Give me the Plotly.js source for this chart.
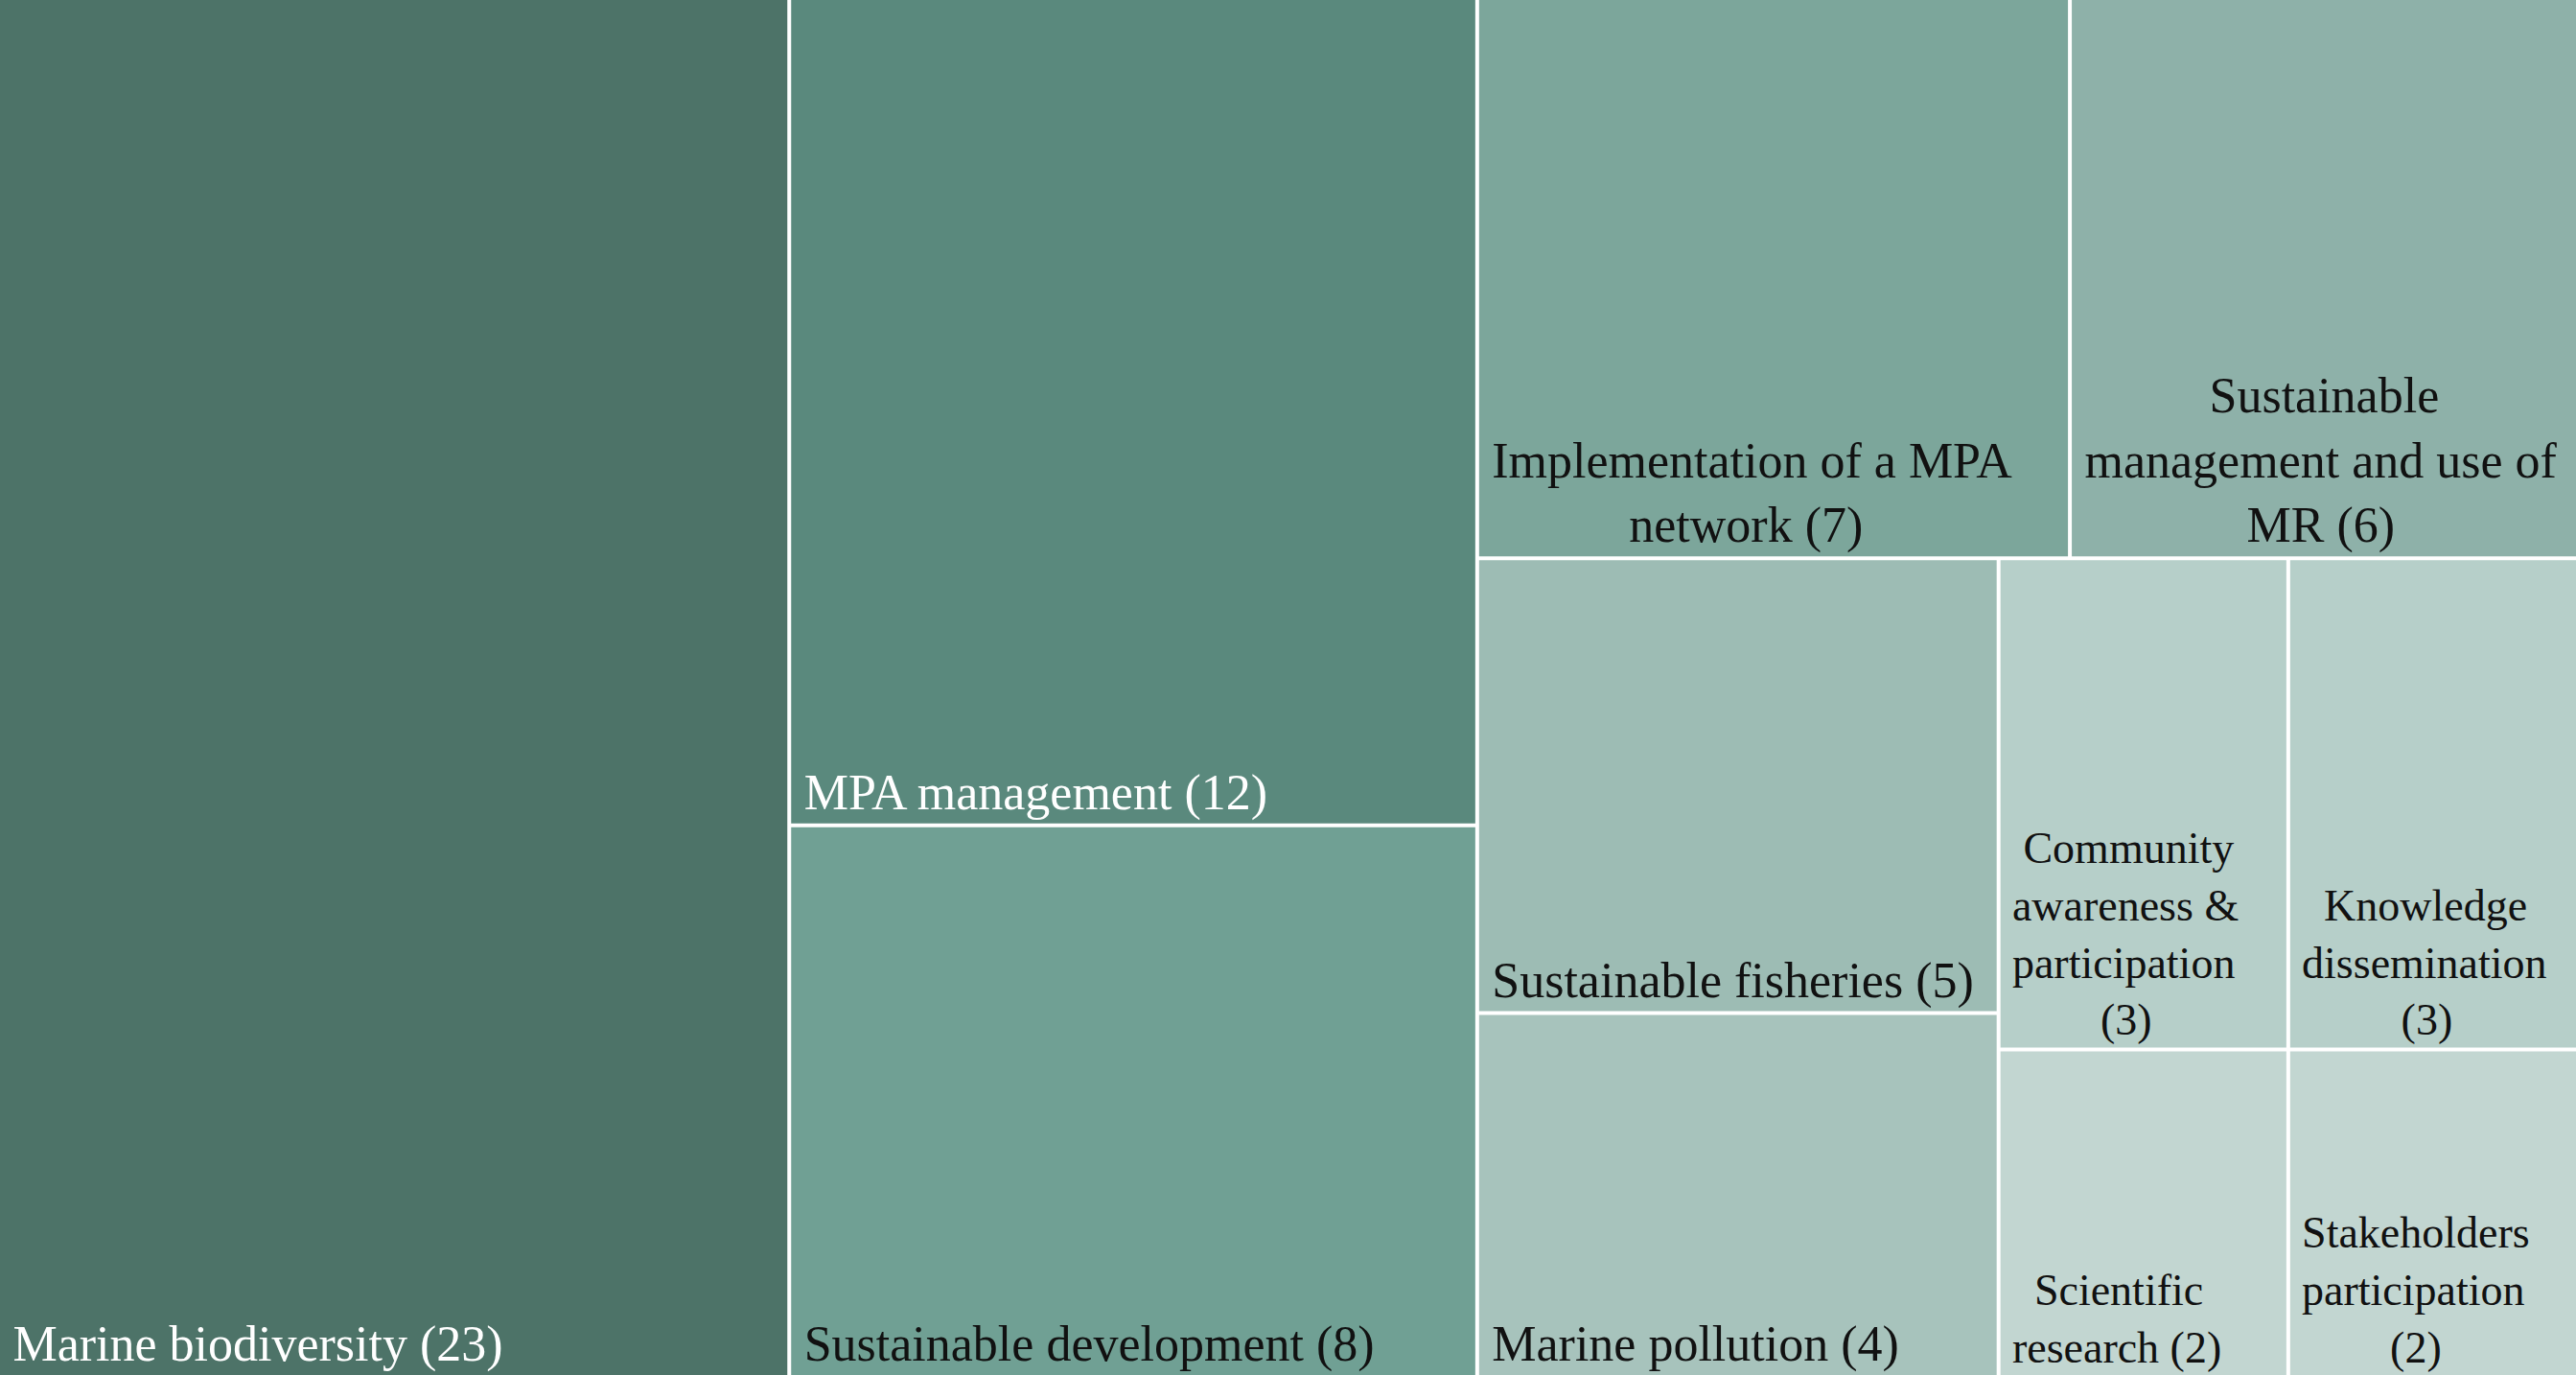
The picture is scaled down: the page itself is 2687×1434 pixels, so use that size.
<!DOCTYPE html>
<html>
<head>
<meta charset="utf-8">
<script src="https://cdn.plot.ly/plotly-3.0.1.min.js"></script>
<style>
html, body { margin: 0; padding: 0; background: #ffffff; overflow: hidden; }
#chart { width: 2687px; height: 1434px; }
</style>
</head>
<body>
<div id="chart"></div>
<script>
// ---- data ----
const categories = [
  "Marine biodiversity",
  "MPA management",
  "Sustainable development",
  "Implementation of a MPA network",
  "Sustainable management and use of MR",
  "Sustainable fisheries",
  "Marine pollution",
  "Community awareness & participation",
  "Knowledge dissemination",
  "Scientific research",
  "Stakeholders participation"
];
const counts = [23, 12, 8, 7, 6, 5, 4, 3, 3, 2, 2];

// label wrapping as in the reference ("#" is replaced by the count)
const labelLines = [
  ["Marine biodiversity (#)"],
  ["MPA management (#)"],
  ["Sustainable development (#)"],
  ["Implementation of a MPA", "network (#)"],
  ["Sustainable", "management and use of", "MR (#)"],
  ["Sustainable fisheries (#)"],
  ["Marine pollution (#)"],
  ["Community", "awareness &", "participation", "(#)"],
  ["Knowledge", "dissemination", "(#)"],
  ["Scientific", "research (#)"],
  ["Stakeholders", "participation", "(#)"]
];

// ---- styles ----
const tileColors = [
  "#4d7368", "#5a897d", "#70a094", "#7ca69b", "#8eb1a9",
  "#9dbcb4", "#a7c3bc", "#b6cfc9", "#b6cfc9", "#c2d6d1", "#c2d6d1"
];
const textColors = [
  "#ffffff", "#ffffff", "#111111", "#111111", "#111111",
  "#111111", "#111111", "#111111", "#111111", "#111111", "#111111"
];
const fontSizes = [52, 52, 52, 52, 52, 52, 52, 46, 46, 46, 46];
const FONT = "Liberation Serif";
const LEAD = "\u2009"; // small inset from the tile's left edge

// build texts: block placed bottom-left, lines centred inside the block
const canvas = document.createElement("canvas");
const ctx = canvas.getContext("2d");
const escapeHtml = s => s.replace(/&/g, "&amp;");
const texts = labelLines.map((lines, i) => {
  const filled = lines.map(l => l.replace("#", String(counts[i])));
  if (filled.length === 1) return LEAD + escapeHtml(filled[0]);
  ctx.font = fontSizes[i] + 'px "' + FONT + '"';
  const nb = ctx.measureText("\u00A0").width || fontSizes[i] * 0.25;
  const widths = filled.map(l => ctx.measureText(l).width);
  const maxW = Math.max(...widths);
  return filled.map((l, k) => {
    const n = Math.round((maxW - widths[k]) / 2 / nb);
    return LEAD + "\u00A0".repeat(n) + escapeHtml(l);
  }).join("<br>");
});

const trace = {
  type: "treemap",
  labels: categories,
  parents: categories.map(() => ""),
  values: counts,
  text: texts,
  textinfo: "text",
  textposition: "bottom left",
  sort: true,
  marker: {
    colors: tileColors,
    line: { width: 0 },
    pad: { t: 0, l: 0, r: 0, b: 0 }
  },
  tiling: { packing: "squarify", squarifyratio: 1, pad: 4 },
  textfont: { family: FONT, size: fontSizes, color: textColors },
  pathbar: { visible: false },
  hoverinfo: "label+value"
};

const layout = {
  width: 2687,
  height: 1434,
  margin: { l: 0, r: 0, t: 0, b: 0, pad: 0 },
  paper_bgcolor: "#ffffff",
  plot_bgcolor: "#ffffff",
  showlegend: false
};

Plotly.newPlot("chart", [trace], layout, { displayModeBar: false, staticPlot: true });
</script>
</body>
</html>
